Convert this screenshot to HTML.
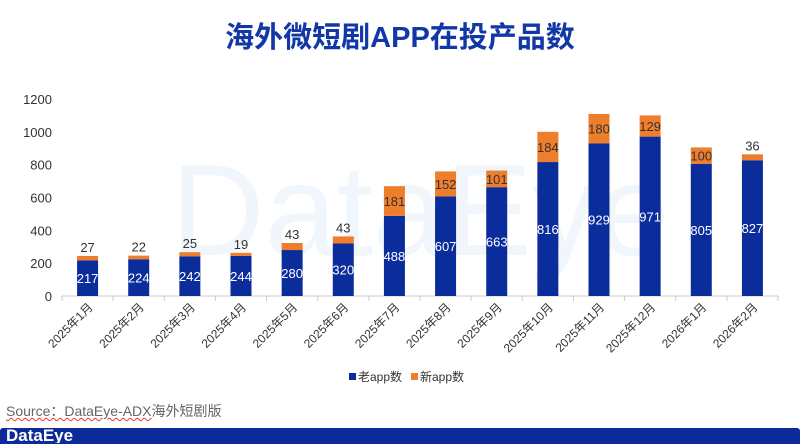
<!DOCTYPE html>
<html><head><meta charset="utf-8"><style>
body{margin:0;width:800px;height:444px;background:#fff;overflow:hidden;font-family:"Liberation Sans","Noto Sans CJK SC",sans-serif;position:relative}
#title{position:absolute;left:0;width:800px;top:14px;text-align:center;font-size:29px;font-weight:bold;color:#1237a6}
#src{position:absolute;left:6px;top:401px;font-size:14px;color:#666}
#src span{text-decoration:underline wavy #e33;text-decoration-thickness:1px}
#banner{position:absolute;left:0;top:428px;width:800px;height:16px;background:#0d2a9a;border-radius:3px 3px 0 0}
#banner div{color:#fff;font-size:17px;font-weight:bold;position:absolute;left:6px;top:-1px;line-height:17px;height:16px;overflow:hidden}
</style></head><body>
<div id="title">海外微短剧APP在投产品数</div>
<svg id="chart" width="800" height="400" style="position:absolute;left:0;top:0">
<text x="420" y="255" font-size="130" fill="#f1f6fd" text-anchor="middle" font-family="Liberation Sans">DataEye</text>
</svg>
<div id="src"><span>Source：DataEye-ADX</span>海外短剧版</div>
<div id="banner"><div>DataEye</div></div>
<script>
const categories=["2025年1月","2025年2月","2025年3月","2025年4月","2025年5月","2025年6月","2025年7月","2025年8月","2025年9月","2025年10月","2025年11月","2025年12月","2026年1月","2026年2月"];
const oldApp=[217,224,242,244,280,320,488,607,663,816,929,971,805,827];
const newApp=[27,22,25,19,43,43,181,152,101,184,180,129,100,36];
const yTicks=[0,200,400,600,800,1000,1200];
const svg=document.getElementById('chart');const NS="http://www.w3.org/2000/svg";
const x0=62,x1=778,y0=296,yTop=99,ymax=1200;
const bw=(x1-x0)/categories.length;
const y=v=>y0-(v/ymax)*(y0-yTop);
const xc=i=>x0+bw*(i+0.5);
function mk(t,a,parent){const e=document.createElementNS(NS,t);for(const k in a)e.setAttribute(k,a[k]);(parent||svg).appendChild(e);return e;}
yTicks.forEach(v=>{const t=mk('text',{x:52,y:y(v)+5,'text-anchor':'end','font-size':13,fill:'#333'});t.textContent=v;

});
const ax=mk('line',{x1:x0,x2:x1,y1:y0,y2:y0,stroke:'#ccc'});


for(let i=0;i<=categories.length;i++){mk('line',{x1:x0+bw*i,x2:x0+bw*i,y1:y0,y2:y0+5,stroke:'#ccc'});}
categories.forEach((c,i)=>{
const cx=xc(i),w=21;
const b=mk('rect',{x:cx-w/2,y:y(oldApp[i]),width:w,height:y0-y(oldApp[i]),fill:'#0b2d9c'});


const n=mk('rect',{x:cx-w/2,y:y(oldApp[i]+newApp[i]),width:w,height:y(oldApp[i])-y(oldApp[i]+newApp[i]),fill:'#ee7d2c'});


const lo=mk('text',{x:cx,y:(y(oldApp[i])+y0)/2+5,'text-anchor':'middle','font-size':13,fill:'#fff'});lo.textContent=oldApp[i];


const big=newApp[i]>90;
const ln=mk('text',{x:cx,y:big?(y(oldApp[i])+y(oldApp[i]+newApp[i]))/2+5:y(oldApp[i]+newApp[i])-4,'text-anchor':'middle','font-size':13,fill:'#333'});ln.textContent=newApp[i];


const tl=mk('text',{x:cx+6,y:y0+12,'text-anchor':'end','font-size':12,fill:'#333',transform:`rotate(-45 ${cx+6} ${y0+12})`});tl.textContent=c;


});
const lg=mk('g',{});


mk('rect',{x:349,y:373,width:7,height:7,fill:'#0b2d9c'},lg);
let t=mk('text',{x:358,y:381,'font-size':12,fill:'#333'},lg);t.textContent='老app数';
mk('rect',{x:411,y:373,width:7,height:7,fill:'#ee7d2c'},lg);
t=mk('text',{x:420,y:381,'font-size':12,fill:'#333'},lg);t.textContent='新app数';
</script>
</body></html>
